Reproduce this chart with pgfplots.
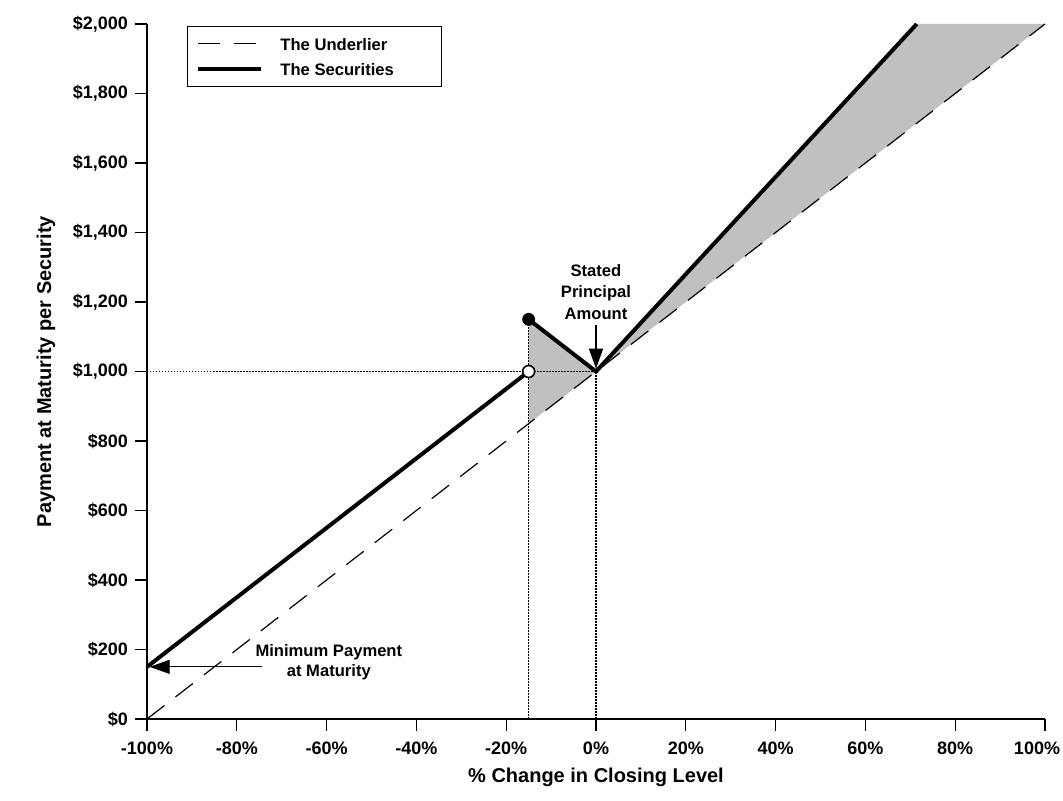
\documentclass[border=0pt]{standalone}
\usepackage{pgfplots}
\pgfplotsset{compat=1.18}
\usepackage{fontspec}
\setmainfont{Liberation Sans}
\usetikzlibrary{arrows.meta}
\definecolor{shade}{RGB}{192,192,192}
\begin{document}
\begin{tikzpicture}
\begin{axis}[
  name=main,
  scale only axis, width=449pt, height=347.5pt,
  xmin=-100, xmax=100, ymin=0, ymax=2000,
  axis lines=left, axis line style={-, line width=0.6pt},
  tick align=outside, major tick length=6pt,
  tick style={black, line width=0.6pt},
  xtick={-100,-80,-60,-40,-20,0,20,40,60,80,100},
  xticklabels={-100\%,-80\%,-60\%,-40\%,-20\%,0\%,20\%,40\%,60\%,80\%,{\makebox[0pt]{\kern-8pt 100\%}}},
  ytick={0,200,400,600,800,1000,1200,1400,1600,1800,2000},
  yticklabels={{\$0},{\$200},{\$400},{\$600},{\$800},{\$1,000},{\$1,200},{\$1,400},{\$1,600},{\$1,800},{\$2,000}},
  tick label style={font=\fontsize{9}{10}\selectfont\bfseries},
  xticklabel style={yshift=-2pt},
  xlabel={\% Change in Closing Level},
  ylabel={Payment at Maturity per Security},
  label style={font=\fontsize{10}{12}\selectfont\bfseries},
  xlabel style={at={(axis description cs:0.5,-0.0835)}, anchor=center},
  ylabel style={at={(axis description cs:-0.1125,0.5)}, anchor=center},
  legend style={at={(axis description cs:0,1)}, anchor=north west, xshift=20pt, yshift=-1pt,
    draw=black, fill=white, inner xsep=4.5pt, inner ysep=3.75pt, row sep=2.5pt,
    font=\fontsize{8.3}{10}\selectfont\bfseries,
    nodes={inner sep=1pt, text height=7.2pt, text depth=0.8pt},
    /tikz/every odd column/.append style={column sep=7.5pt}},
  legend cell align=left,
  legend image code/.code={\draw[#1] (0pt,0pt) -- (31.5pt,0pt);},
]
% shaded regions
\addplot[fill=shade, draw=none, forget plot] coordinates {(-15,850) (-15,1150) (0,1000)} -- cycle;
\addplot[fill=shade, draw=none, forget plot] coordinates {(0,1000) (71.43,2000) (100,2000)} -- cycle;
% dotted guides
\addplot[black, line width=0.6pt, dash pattern=on 0.75pt off 0.75pt, forget plot] coordinates {(-100,1000) (0,1000)};
\addplot[black, line width=0.6pt, dash pattern=on 0.75pt off 0.75pt, forget plot] coordinates {(-15,0) (-15,1150)};
\addplot[black, line width=0.6pt, dash pattern=on 0.75pt off 0.75pt, forget plot] coordinates {(0,0) (0,1000)};
% underlier
\addplot[black, line width=0.6pt, dash pattern=on 11pt off 7pt] coordinates {(-100,0) (100,2000)};
\addlegendentry{\makebox[75pt][l]{The Underlier}}
% securities
\addplot[black, line width=2pt] coordinates {(-100,150) (-15,1000)};
\addlegendentry{\makebox[75pt][l]{The Securities}}
\addplot[black, line width=2pt, forget plot] coordinates {(-15,1150) (0,1000) (71.43,2000)};
% markers
\addplot[only marks, mark=*, mark size=3pt, mark options={fill=black, draw=black}, forget plot] coordinates {(-15,1150)};
\addplot[only marks, mark=*, mark size=3pt, mark options={fill=white, draw=black, line width=0.8pt}, forget plot] coordinates {(-15,1000)};
% annotations
\node[align=center, font=\fontsize{8.3}{10.75}\selectfont\bfseries] at (axis cs:0,1229) {Stated\\Principal\\Amount};
\draw[line width=0.6pt, -{Triangle[width=7pt,length=10pt]}] (axis cs:0,1134) -- (axis cs:0,1008);
\node[align=center, font=\fontsize{8.3}{10}\selectfont\bfseries] at (axis cs:-59.5,162) {Minimum Payment\\at Maturity};
\draw[line width=0.6pt, -{Triangle[width=7pt,length=10pt]}] (axis cs:-74.3,150) -- (axis cs:-99.4,150);
\end{axis}
\pgfresetboundingbox
\path[use as bounding box] ([shift={(-73.5pt,-41pt)}]main.south west) rectangle ([shift={(9pt,12pt)}]main.north east);
\end{tikzpicture}
\end{document}
